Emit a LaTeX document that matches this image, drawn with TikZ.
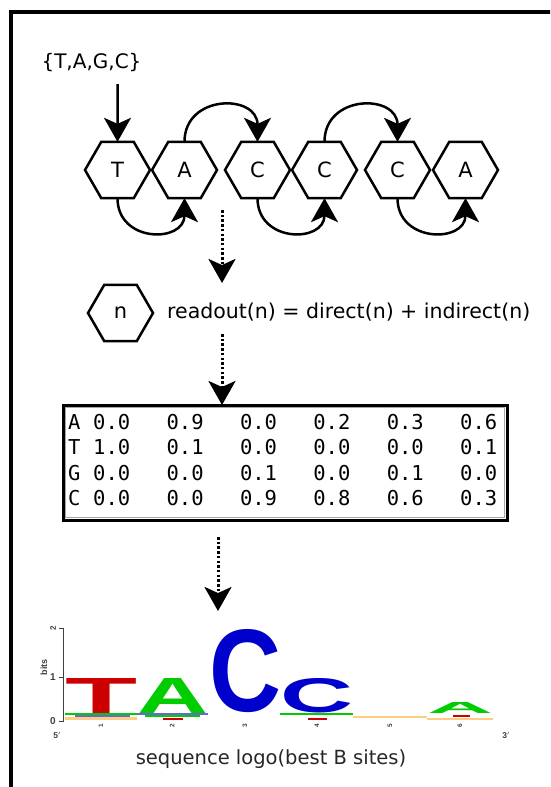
\documentclass[tikz,border=0pt]{standalone}
\usepackage{fontspec}
\usepackage{graphicx}
\setmainfont{DejaVu Sans}
\newfontfamily\monofont{DejaVu Sans Mono}
\newfontfamily\logofont{Liberation Sans}
\usetikzlibrary{shapes.geometric,arrows.meta}
\definecolor{logored}{RGB}{204,0,0}
\definecolor{logogreen}{RGB}{0,204,0}
\definecolor{logoblue}{RGB}{0,0,204}
\definecolor{logoorange}{RGB}{255,205,130}
\begin{document}
\begin{tikzpicture}[x=1pt,y=-1pt,
  hexnode/.style={regular polygon, regular polygon sides=6, minimum size=65pt,
    inner sep=0pt, outer sep=0pt, draw, line width=2.5pt,
    font=\fontsize{21}{25}\selectfont},
  bigtip/.style={-{Stealth[length=24pt,width=27pt,inset=6pt]}},
  link/.style={line width=2.5pt, bigtip},
  dotarrow/.style={line width=3pt, dash pattern=on 2.5pt off 2.2pt, bigtip},
  label20/.style={inner sep=0pt, font=\fontsize{20.5}{24}\selectfont},
  cell/.style={inner sep=0pt, anchor=west, font=\monofont\fontsize{20.5}{24}\selectfont},
  letter/.style={inner sep=0pt, outer sep=0pt, anchor=south west},
  tiny/.style={inner sep=0pt, font=\logofont\bfseries\fontsize{7}{8}\selectfont, text=black!75}
]
\useasboundingbox (0,0) rectangle (550,787);

% outer frame, running off the right and bottom edges
\begin{scope}
  \clip (0,0) rectangle (550,787);
  \draw[line width=3.5pt] (11,12) rectangle (570,810);
\end{scope}

% alphabet and entry arrow
\node[label20, font=\fontsize{20}{24}\selectfont] (alpha) at (91.5,63) {\{T,A,G,C\}};
\coordinate (entry) at (117.5,84);

% the site as a chain of hexagons
\node[hexnode] (s1) at (117.5,170) {T};
\node[hexnode] (s2) at (184.5,170) {A};
\node[hexnode] (s3) at (257.5,170) {C};
\node[hexnode] (s4) at (324.5,170) {C};
\node[hexnode] (s5) at (397.5,170) {C};
\node[hexnode] (s6) at (465.5,170) {A};

\draw[link] (entry) -- (s1.north);

% hops along the chain
\draw[link] (s2.north) .. controls +(0,-48) and +(0,-48) .. (s3.north);
\draw[link] (s4.north) .. controls +(0,-48) and +(0,-48) .. (s5.north);
\draw[link] (s1.south) .. controls +(0,45) and +(0,45) .. (s2.south);
\draw[link] (s3.south) .. controls +(0,45) and +(0,45) .. (s4.south);
\draw[link] (s5.south) .. controls +(0,45) and +(0,45) .. (s6.south);

% readout of a single position
\coordinate (d1s) at (222,210);
\coordinate (d1e) at (222,283);
\draw[dotarrow] (d1s) -- (d1e);

\node[hexnode] (n) at (120.5,313) {n};
\node[label20, anchor=west] (readout) at (167,312) {readout(n) = direct(n) + indirect(n)};

% position weight matrix: heavy border with a light inner rule
\node[draw, line width=3pt, minimum width=444pt, minimum height=115pt,
      inner sep=0pt, outer sep=0pt] (pwm) at (285,462.5) {};
\draw[black!35, line width=0.8pt] ([xshift=2.6pt,yshift=-2.6pt]pwm.north west)
  rectangle ([xshift=-2.6pt,yshift=2.6pt]pwm.south east);
\coordinate (d2s) at (222,334);
\draw[dotarrow] (d2s) -- (d2s |- pwm.north);

\foreach \row [count=\i] in {{A,0.0,0.9,0.0,0.2,0.3,0.6},
                             {T,1.0,0.1,0.0,0.0,0.0,0.1},
                             {G,0.0,0.0,0.1,0.0,0.1,0.0},
                             {C,0.0,0.0,0.9,0.8,0.6,0.3}} {
  \foreach \val [count=\j] in \row {
    \pgfmathsetmacro{\cx}{\j==1 ? 68 : 93 + (\j-2)*73.4}
    \pgfmathsetmacro{\cy}{422 + (\i-1)*25.4}
    \node[cell] (cell-\i-\j) at (\cx,\cy) {\val};
  }
}

% sequence logo
\coordinate (d3s) at (218,537);
\coordinate (d3e) at (218,611);
\draw[dotarrow] (d3s) -- (d3e);

% axis
\draw[line width=0.9pt, black!75] (63,628) -- (63,722);
\draw[line width=0.9pt, black!75] (59,628) -- (63,628);
\draw[line width=0.9pt, black!75] (59,677) -- (63,677);
\draw[line width=0.9pt, black!75] (59,721) -- (63,721);
\node[tiny, rotate=90, font=\logofont\bfseries\fontsize{8}{9}\selectfont] (tick2) at (53,628) {2};
\node[tiny, font=\logofont\bfseries\fontsize{10}{11}\selectfont] (tick1) at (53,677) {1};
\node[tiny, font=\logofont\bfseries\fontsize{10}{11}\selectfont] (tick0) at (53,721) {0};
\node[tiny, rotate=90, font=\logofont\bfseries\fontsize{9}{10}\selectfont] (bits) at (44,667) {bits};

% thin bands under the stacks
\fill[logogreen] (65,713) rectangle (137,715);
\fill[logoblue!60] (75,715) rectangle (130,716.5);
\fill[logoorange] (65,717) rectangle (137,719.5);
\fill[logoblue!60] (137,713) rectangle (208,715);
\fill[logogreen] (145,715) rectangle (200,716.5);
\fill[logored] (163,718) rectangle (183,720);
\fill[logogreen] (280,713) rectangle (353,715);
\fill[logored] (308,718) rectangle (327,720);
\fill[logoorange] (353,716) rectangle (427,718);
\fill[logored] (453,715) rectangle (470,717);
\fill[logoorange] (427,718) rectangle (493,720);

% stacked letters
\node[letter, text=logored] (p1) at (65,713) {\resizebox{72pt}{35pt}{\logofont\bfseries T}};
\node[letter, text=logogreen] (p2) at (137,713) {\resizebox{71pt}{35pt}{\logofont\bfseries A}};
\node[letter, text=logoblue] (p3) at (209,713) {\resizebox{72pt}{82pt}{\logofont\bfseries C}};
\node[letter, text=logoblue] (p4) at (280,713) {\resizebox{73pt}{34pt}{\logofont\bfseries C}};
\node[letter, text=logogreen] (p6) at (427,713) {\resizebox{66pt}{11pt}{\logofont\bfseries A}};

% position numbers and ends
\foreach \px [count=\k] in {101,172,245,317,390,460} {
  \node[tiny, rotate=90, font=\logofont\bfseries\fontsize{6.5}{7}\selectfont] (pos\k) at (\px,726) {\k};
}
\node[tiny, font=\logofont\bfseries\fontsize{8.5}{9}\selectfont] (five) at (57,735) {5$'$};
\node[tiny, font=\logofont\bfseries\fontsize{8.5}{9}\selectfont] (three) at (506,735) {3$'$};

\node[label20, font=\fontsize{19.5}{24}\selectfont, text=black!85] (caption) at (271,759) {sequence logo(best B sites)};
\end{tikzpicture}
\end{document}
